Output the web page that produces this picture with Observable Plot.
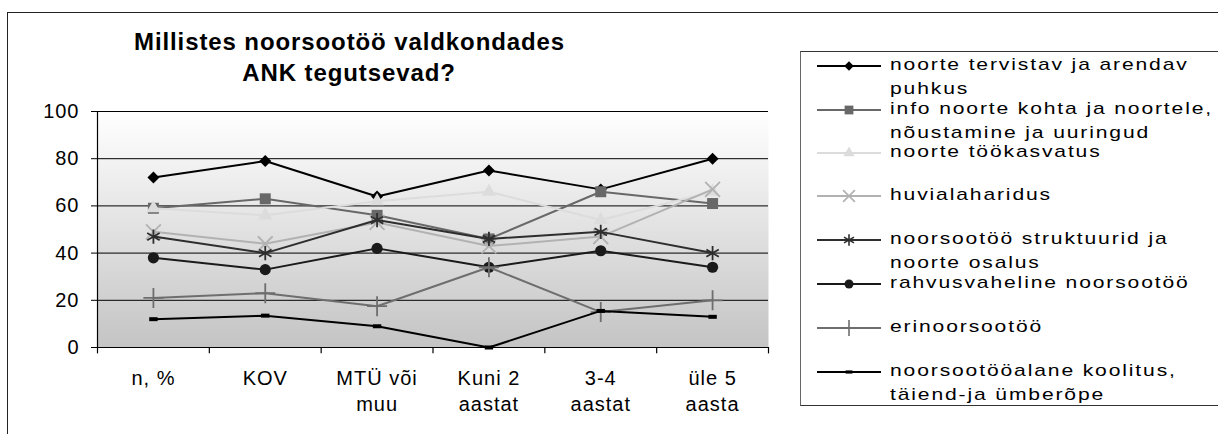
<!DOCTYPE html>
<html>
<head>
<meta charset="utf-8">
<script src="https://cdn.jsdelivr.net/npm/d3@7"></script>
<script src="https://cdn.jsdelivr.net/npm/@observablehq/plot@0.6"></script>
<style>
  html, body { margin: 0; padding: 0; background: #fff; }
  body { width: 1218px; height: 434px; overflow: hidden; position: relative; font-family: "Liberation Sans", Arial, sans-serif; }
  #frame { position: absolute; left: 7px; top: 12px; width: 1300px; height: 500px; border-left: 1.5px solid #222; border-top: 1.5px solid #222; }
  #title { position: absolute; left: 134px; width: 430px; top: 26px; text-align: center; font-weight: bold; font-size: 24px; line-height: 31px; letter-spacing: 0.9px; color: #000; white-space: nowrap; }
  #chart { position: absolute; left: 0; top: 0; }
  #chart text { letter-spacing: 1px; }
  #legend { position: absolute; left: 800px; top: 51px; width: 500px; height: 353px; border: 1px solid #333; border-left-color: #666; }
  .row { position: absolute; left: 0; height: 0; }
  .row svg { position: absolute; left: 16px; top: -15px; }
  .row .lbl { position: absolute; left: 89px; font-size: 17px; line-height: 17px; height: 17px; white-space: nowrap; color: #000; letter-spacing: 1.5px; transform: scaleX(1.24); transform-origin: 0 50%; }
</style>
</head>
<body>
<svg width="0" height="0" style="position:absolute">
  <defs>
    <linearGradient id="bg" x1="0" y1="0" x2="0" y2="1">
      <stop offset="0" stop-color="#ffffff"/>
      <stop offset="1" stop-color="#c4c4c4"/>
    </linearGradient>
  </defs>
</svg>
<div id="frame"></div>
<div id="title">Millistes noorsootöö valdkondades<br>ANK tegutsevad?</div>
<div id="chart"></div>
<div id="legend"></div>
<script>
const categories = ["n, %", "KOV", "MTÜ või\nmuu", "Kuni 2\naastat", "3-4\naastat", "üle 5\naasta"];
const seriesNames = [
  "noorte tervistav ja arendav\npuhkus",
  "info noorte kohta ja noortele,\nnõustamine ja uuringud",
  "noorte töökasvatus",
  "huvialaharidus",
  "noorsootöö struktuurid ja\nnoorte osalus",
  "rahvusvaheline noorsootöö",
  "erinoorsootöö",
  "noorsootööalane koolitus,\ntäiend-ja ümberõpe"
];
const tervistav   = [72, 79, 64, 75, 67, 80];
const info        = [59, 63, 56, 46, 66, 61];
const tookasvatus = [59, 56, 62, 66, 54, 66];
const huviala     = [49, 44, 53, 43, 47, 67];
const struktuurid = [47, 40, 54, 46, 49, 40];
const rahvusvah   = [38, 33, 42, 34, 41, 34];
const erinoor     = [21, 23, 17.5, 34, 15, 20];
const koolitus    = [12, 13.5, 9, 0, 15.5, 13];
const yTicks = [0, 20, 40, 60, 80, 100];

const dash = { draw(ctx, size) { const w = Math.sqrt(size) * 0.95, h = Math.sqrt(size) * 0.45; ctx.rect(-w/2, -h/2, w, h); } };

const styles = [
  { values: tervistav,   color: "#000000", symbol: "diamond2", r: 5.4, filled: true },
  { values: info,        color: "#686868", symbol: "square",   r: 6.2, filled: true },
  { values: tookasvatus, color: "#dcdcdc", symbol: "triangle", r: 5.2, filled: true },
  { values: huviala,     color: "#b2b2b2", symbol: "times",    r: 6.8, filled: false },
  { values: struktuurid, color: "#2e2e2e", symbol: "asterisk", r: 6.8, filled: false },
  { values: rahvusvah,   color: "#1a1a1a", symbol: "circle",   r: 5.6, filled: true },
  { values: erinoor,     color: "#6e6e6e", symbol: "plus",     r: 6.5, filled: false },
  { values: koolitus,    color: "#000000", symbol: dash,       r: 5.0, filled: true }
];

const marks = [
  Plot.frame({ fill: "url(#bg)", stroke: "none" }),
  Plot.gridY(yTicks, { stroke: "#000", strokeOpacity: 1, strokeWidth: 1 }),
  Plot.ruleX([-0.5], { stroke: "#000", strokeWidth: 1.2 }),
  Plot.ruleY([0], { stroke: "#000", strokeWidth: 1.2 }),
  Plot.ruleX(d3.range(categories.length + 1).map(i => i - 0.5), { y1: 0, y2: -2.7, stroke: "#000", strokeWidth: 1.2, clip: false }),
  Plot.axisY({ ticks: yTicks, tickSize: 6, tickPadding: 12, fontSize: 20, label: null, stroke: "#000", color: "#000" }),
  Plot.axisX({ ticks: d3.range(categories.length), tickFormat: i => categories[i], tickSize: 0, tickPadding: 19, fontSize: 20, lineHeight: 1.3, label: null, color: "#000" })
];

styles.forEach((s, k) => {
  const rows = s.values.map((v, i) => ({ i, v }));
  marks.push(Plot.line(rows, { x: "i", y: "v", stroke: s.color, strokeWidth: 2 }));
  marks.push(Plot.dot(rows, {
    x: "i", y: "v", symbol: () => s.symbol, r: s.r,
    fill: s.filled ? s.color : "none",
    stroke: s.filled ? "none" : s.color,
    strokeWidth: s.filled ? 0 : 1.8
  }));
});

const chart = Plot.plot({
  width: 790,
  height: 434,
  marginLeft: 97,
  marginRight: 22,
  marginTop: 111,
  marginBottom: 87,
  x: { type: "linear", domain: [-0.5, categories.length - 0.5], axis: null },
  y: { domain: [0, 100], axis: null },
  style: { fontFamily: "Liberation Sans, Arial, sans-serif", background: "transparent", overflow: "visible" },
  marks
});
document.getElementById("chart").appendChild(chart);

// legend (row centres relative to the legend box)
const legend = document.getElementById("legend");
const rowCentres = [14, 58, 101, 144, 188, 232, 276, 320];
const symMap = { diamond2: d3.symbolDiamond2, square: d3.symbolSquare, triangle: d3.symbolTriangle, times: d3.symbolTimes, asterisk: d3.symbolAsterisk, circle: d3.symbolCircle, plus: d3.symbolPlus };
styles.forEach((s, k) => {
  const row = document.createElement("div");
  row.className = "row";
  row.style.top = rowCentres[k] + "px";
  const ns = "http://www.w3.org/2000/svg";
  const svg = document.createElementNS(ns, "svg");
  svg.setAttribute("width", 66); svg.setAttribute("height", 30);
  const ln = document.createElementNS(ns, "line");
  ln.setAttribute("x1", 0); ln.setAttribute("x2", 64); ln.setAttribute("y1", 15); ln.setAttribute("y2", 15);
  ln.setAttribute("stroke", s.color); ln.setAttribute("stroke-width", 2);
  svg.appendChild(ln);
  const p = document.createElementNS(ns, "path");
  const type = typeof s.symbol === "string" ? symMap[s.symbol] : s.symbol;
  const rr = s.r * 0.8;
  p.setAttribute("d", d3.symbol(type, Math.PI * rr * rr)());
  p.setAttribute("transform", "translate(32,15)");
  if (s.filled) { p.setAttribute("fill", s.color); } else { p.setAttribute("fill", "none"); p.setAttribute("stroke", s.color); p.setAttribute("stroke-width", 1.6); }
  svg.appendChild(p);
  row.appendChild(svg);
  seriesNames[k].split("\n").forEach((line, j) => {
    const lbl = document.createElement("div");
    lbl.className = "lbl";
    lbl.style.top = (-10 + j * 24) + "px";
    lbl.textContent = line;
    row.appendChild(lbl);
  });
  legend.appendChild(row);
});
</script>
</body>
</html>
